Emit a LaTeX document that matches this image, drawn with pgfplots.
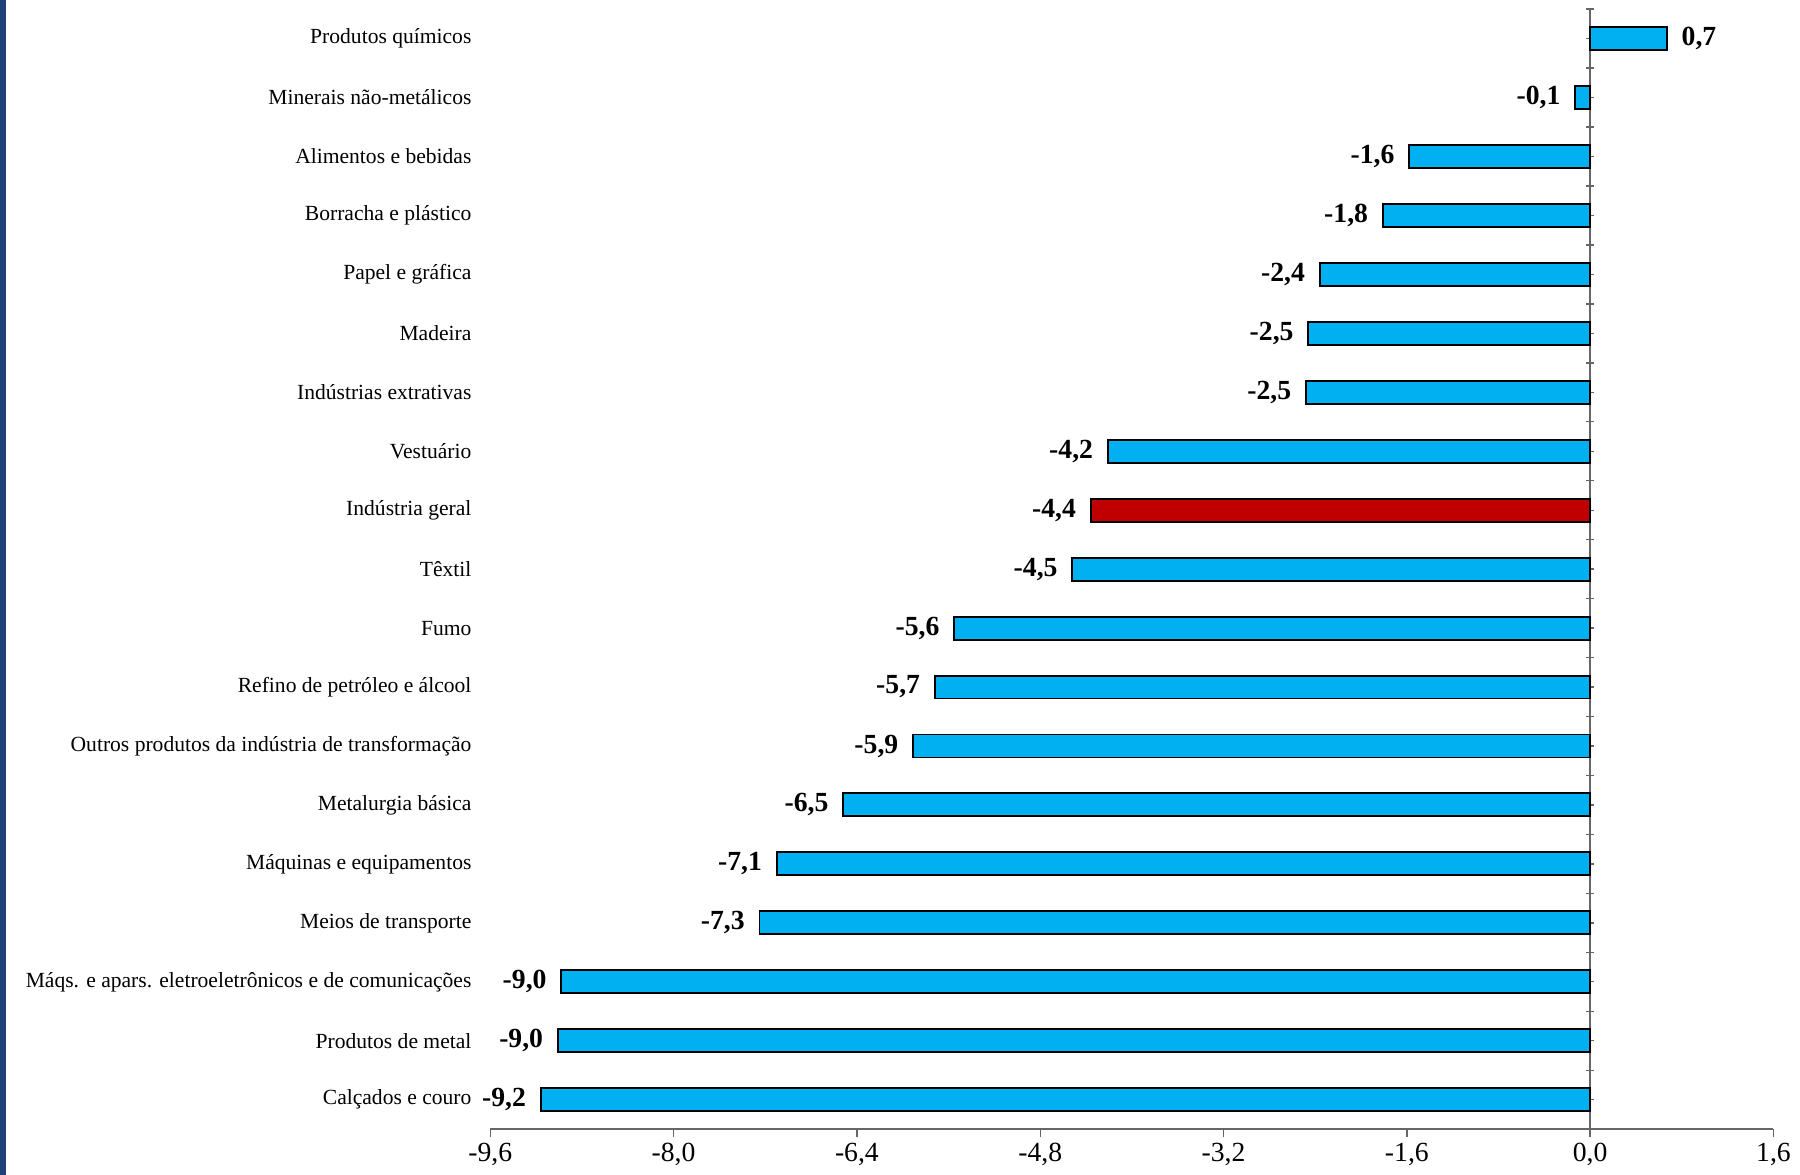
\documentclass[border=0pt]{standalone}
\usepackage{pgfplots}
\pgfplotsset{compat=1.18}
\usepackage{pgfplotstable}
\usepackage{fontspec}
\setmainfont{Liberation Serif}
\definecolor{barblue}{HTML}{00B0F0}
\definecolor{barred}{HTML}{C00000}
\definecolor{stripe}{HTML}{1F3F7A}
\pgfplotstableread{
x y lab
-9.16 0 {-9,2}
-9.01 1 {-9,0}
-8.98 2 {-9,0}
-7.25 3 {-7,3}
-7.10 4 {-7,1}
-6.52 5 {-6,5}
-5.91 6 {-5,9}
-5.72 7 {-5,7}
-5.55 8 {-5,6}
-4.52 9 {-4,5}
-4.21 11 {-4,2}
-2.48 12 {-2,5}
-2.46 13 {-2,5}
-2.36 14 {-2,4}
-1.81 15 {-1,8}
-1.58 16 {-1,6}
-0.13 17 {-0,1}
}\blue
\pgfplotstableread{
x y lab
0.67 18 {0,7}
}\bluepos
\pgfplotstableread{
x y lab
-4.36 10 {-4,4}
}\red
\begin{document}
\begin{tikzpicture}
\begin{axis}[
  scale only axis, width=464pt, height=405pt,
  xbar, bar width=8.3pt, bar shift=0pt,
  xmin=-9.6, xmax=1.6, ymin=-0.5, ymax=18.5,
  axis x line=bottom, axis y line=center,
  axis line style={-, draw=gray!80!black, line width=0.6pt},
  xtick={-9.6,-8,-6.4,-4.8,-3.2,-1.6,0,1.6},
  xticklabel style={font=\fontsize{10}{12}\selectfont},
  x tick label style={/pgf/number format/.cd, fixed, fixed zerofill, precision=1, use comma, assume math mode=true},
  ytick={0,...,18},
  minor ytick={-0.5,0.5,...,18.5},
  yticklabels={Calçados e couro, Produtos de metal, Máqs. e apars. eletroeletrônicos e de comunicações, Meios de transporte, Máquinas e equipamentos, Metalurgia básica, Outros produtos da indústria de transformação, Refino de petróleo e álcool, Fumo, Têxtil, Indústria geral, Vestuário, Indústrias extrativas, Madeira, Papel e gráfica, Borracha e plástico, Alimentos e bebidas, Minerais não-metálicos, Produtos químicos},
  yticklabel style={anchor=east, xshift=-399.5pt, font=\fontsize{7.8}{9}\selectfont},
  tick align=center,
  major tick length=3pt, minor tick length=3pt,
  tick style={draw=gray!80!black, line width=0.5pt},
  xtick style={yshift=-1.5pt},
  clip=false,
  point meta=explicit symbolic,
  nodes near coords,
  nodes near coords style={font=\bfseries\fontsize{10}{12}\selectfont, inner sep=5pt, anchor=east},
]
\addplot[fill=barblue, draw=black, line width=0.7pt] table[x=x,y=y,meta=lab]{\blue};
\addplot[fill=barred, draw=black, line width=0.7pt] table[x=x,y=y,meta=lab]{\red};
\addplot[fill=barblue, draw=black, line width=0.7pt, nodes near coords style={anchor=west}] table[x=x,y=y,meta=lab]{\bluepos};
\end{axis}
\path ([yshift=3pt]current bounding box.north);
\fill[stripe] ([xshift=-4pt]current bounding box.south west) rectangle ([xshift=-2pt]current bounding box.north west);
\end{tikzpicture}
\end{document}
